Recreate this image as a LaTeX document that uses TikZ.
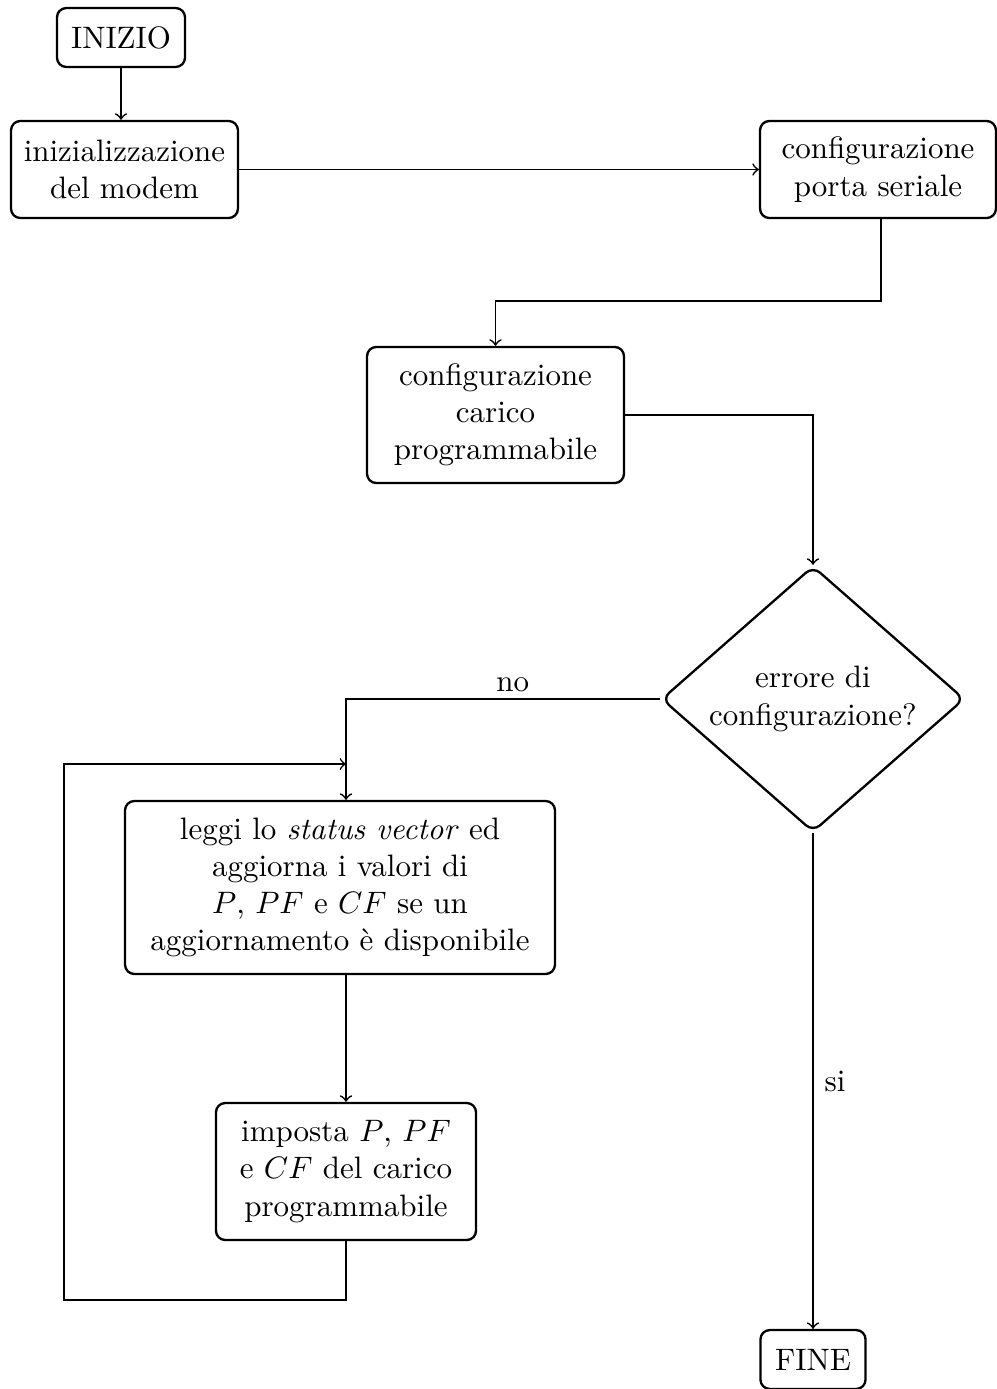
\documentclass[tikz,border=0pt]{standalone}
\usetikzlibrary{shapes.geometric}
\begin{document}
\begin{tikzpicture}[
  x=0.3226pt, y=-0.3226pt,
  box/.style={draw, line width=0.75pt, rounded corners=3pt, align=center, inner sep=2pt},
  decision/.style={draw, diamond, aspect=1.2, line width=0.75pt, rounded corners=3pt, align=center, inner sep=0pt},
  link/.style={->, line width=0.55pt},
  loopline/.style={->, line width=0.5pt}
]
\clip (0,0) rectangle (997,1389);

% process steps
\node[box, minimum width=41.3pt, minimum height=19pt] (inizio) at (121,37.5) {INIZIO};
\node[box, minimum width=73.2pt, minimum height=31.3pt] (init) at (124.5,169.5) {inizializzazione\\del modem};
\node[box, minimum width=76.1pt, minimum height=31.3pt] (porta) at (878,169.5) {configurazione\\porta seriale};
\node[box, minimum width=82.9pt, minimum height=43.9pt] (carico) at (495.5,415) {configurazione\\carico\\programmabile};
\node[decision, minimum width=97.7pt, minimum height=85.8pt] (err) at (813,699) {errore di\\configurazione?};
\node[box, minimum width=138.7pt, minimum height=55.8pt] (leggi) at (340,887.5)
  {leggi lo \textit{status vector} ed\\aggiorna i valori di\\$P$, $PF$ e $CF$ se un\\aggiornamento è disponibile};
\node[box, minimum width=83.9pt, minimum height=44.2pt] (imposta) at (346,1171.5)
  {imposta $P$, $PF$\\e $CF$ del carico\\programmabile};
\node[box, minimum width=33.9pt, minimum height=19pt] (fine) at (813,1359.5) {FINE};

% routing points
\coordinate (k1) at (0,301);
\coordinate (lb) at (64,1300);
\coordinate (lt) at (346,764);
\coordinate (pd) at ([xshift=1pt]porta.south);

% connectors
\draw[link] (inizio.south) -- (inizio.south |- init.north);
\draw[link] (init.east) -- (porta.west);
\draw[link] (pd) -- (pd |- k1) -| (carico.north);
\draw[link] (carico.east) -| (err.north);
\draw[link] (err.west) -| node[above, pos=0.235, inner sep=2pt] (no) {no} (imposta.north |- leggi.north);
\draw[link] (imposta.north |- leggi.south) -- (imposta.north);
\draw[loopline] (imposta.south) |- (lb) |- (lt);
\draw[link] (err.south) -- node[right, inner sep=3.5pt] (si) {si} (fine.north);
\end{tikzpicture}
\end{document}
